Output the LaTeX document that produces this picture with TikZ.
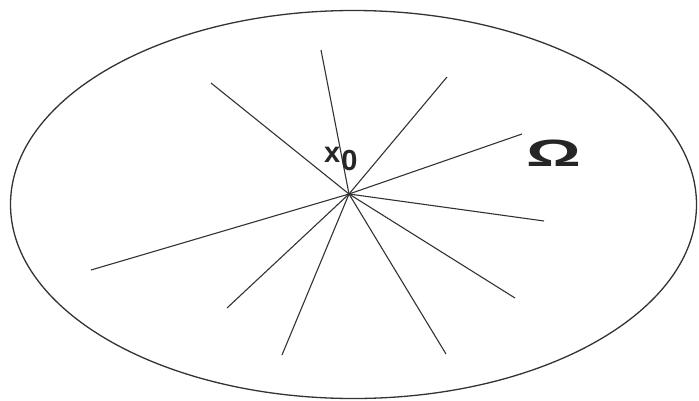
\documentclass[tikz,border=0pt]{standalone}
\usepackage{fontspec}
\setmainfont{Liberation Sans}
\usepackage{graphicx}
\usetikzlibrary{shapes.geometric}
\tikzset{
  regionbox/.style = {ellipse, draw=black!80, line width=1.3pt, inner sep=0pt,
                      minimum width=686pt, minimum height=388pt},
  ray/.style    = {draw=black!80, line width=1.1pt},
  lbl/.style    = {font=\fontsize{29}{29}\selectfont\bfseries, inner sep=0pt, text=black!85},
}

\begin{document}
\begin{tikzpicture}[x=1pt,y=-1pt]
  \useasboundingbox (0,0) rectangle (699,400);
  \node[regionbox] (dom) at (353.5,204.5) {};
  \coordinate (x0) at (349,194);
  % rays from x0
  \foreach \px/\py [count=\i] in {321/50, 211/83, 447/77, 522/134, 544/221,
                                  91/270, 227/308, 282/355, 446/354, 515/298} {
    \coordinate (e\i) at (\px,\py);
    \draw[ray] (x0) -- (e\i);
  }
  \node[lbl, anchor=base west] (xlab) at (324,162) {x\hspace{1pt}\raisebox{-8pt}{0}};
  \node[lbl, anchor=base west, font=\fontsize{38}{38}\selectfont\bfseries] (omlab) at (526,166)
    {\scalebox{1.8}[1]{Ω}};
\end{tikzpicture}
\end{document}
